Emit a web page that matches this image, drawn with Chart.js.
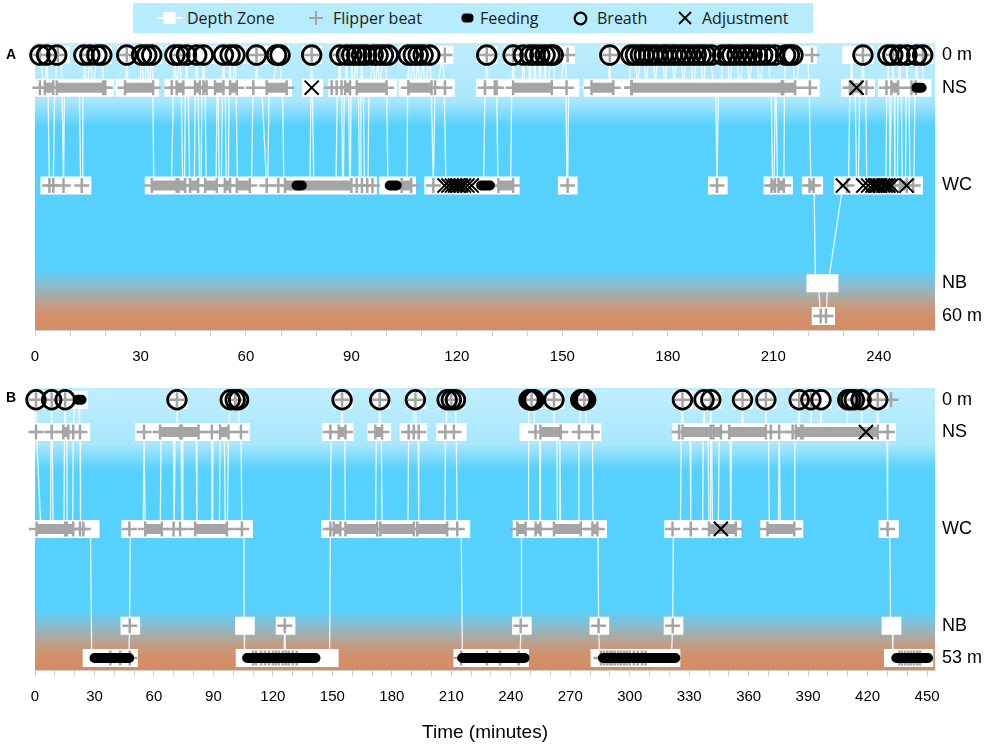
<!DOCTYPE html>
<html><head><meta charset="utf-8">
<script src="https://cdn.jsdelivr.net/npm/chart.js@4.4.1/dist/chart.umd.min.js"></script>
<style>
body{margin:0;background:#fff;width:991px;height:747px;overflow:hidden;position:relative;font-family:'Open Sans',sans-serif}
#legend{position:absolute;left:133px;top:3px;width:680px;height:30px;background:#b6ecfc}
#legend svg{position:absolute}
.lt{position:absolute;top:0;line-height:30px;font-size:16px;color:#1a1a1a;white-space:nowrap}
canvas{position:absolute;left:0}
.pl{position:absolute;left:6px;font:bold 14px 'Liberation Sans',Arial,sans-serif;color:#000}
</style></head><body>
<div id="legend">
 <svg style="left:24px;top:8px" width="26" height="14"><line x1="0" y1="7" x2="26" y2="7" stroke="#fff" stroke-width="2"/><rect x="6.5" y="1" width="12" height="12" fill="#fff"/></svg>
 <span class="lt" style="left:54px">Depth Zone</span>
 <svg style="left:176px;top:8px" width="14" height="14"><line x1="0" y1="7" x2="14" y2="7" stroke="#a5a5a5" stroke-width="2"/><line x1="7" y1="0" x2="7" y2="14" stroke="#a5a5a5" stroke-width="2"/></svg>
 <span class="lt" style="left:200px">Flipper beat</span>
 <svg style="left:328px;top:10px" width="13" height="10"><rect x="0.5" y="0.5" width="12" height="9" rx="4" fill="#000"/></svg>
 <span class="lt" style="left:347px">Feeding</span>
 <svg style="left:440px;top:8px" width="15" height="15"><circle cx="7.5" cy="7.5" r="5.8" fill="none" stroke="#000" stroke-width="2.2"/></svg>
 <span class="lt" style="left:464px">Breath</span>
 <svg style="left:545px;top:8px" width="14" height="14"><line x1="1" y1="1" x2="13" y2="13" stroke="#000" stroke-width="1.8"/><line x1="13" y1="1" x2="1" y2="13" stroke="#000" stroke-width="1.8"/></svg>
 <span class="lt" style="left:569px">Adjustment</span>
</div>
<canvas id="ca" width="991" height="370" style="top:0"></canvas>
<canvas id="cb" width="991" height="377" style="top:370px"></canvas>
<div class="pl" style="top:46px">A</div>
<div class="pl" style="top:389px">B</div>
<script>
// ---------- zone positions and labels ----------
const ZONE_TICKS = [0, 1, 4, 7, 8];
const ZONE_NAMES_A = ['0 m', 'NS', 'WC', 'NB', '60 m'];
const ZONE_NAMES_B = ['0 m', 'NS', 'WC', 'NB', '53 m'];
const X_LABELS_A = [0, 30, 60, 90, 120, 150, 180, 210, 240];
const X_LABELS_B = [0, 30, 60, 90, 120, 150, 180, 210, 240, 270, 300, 330, 360, 390, 420, 450];

// ---------- Panel A ----------
// depth zone visits: [zone, start min, end min]
const A_DEPTH = [
[0,1.4,1.4],[1,2.6,2.9],[0,3.3,3.3],[1,3.7,3.8],[4,4.1,5.2],[1,5.6,5.8],[0,6.2,7.4],[1,7.7,7.8],[4,8.1,8.1],[1,8.4,12.6],[4,13.0,13.4],[1,13.6,13.7],[0,13.9,14.2],[1,14.6,15.0],[0,15.6,15.8],[1,16.3,16.6],[0,17.6,19.2],[1,19.4,19.4],
[1,25.4,25.8],[0,26.1,26.1],[1,26.5,29.8],[0,30.3,30.5],[1,30.8,31.2],[0,31.8,32.0],[1,32.3,32.5],[0,33.2,33.4],
[4,33.8,38.8],[1,39.4,39.5],[0,39.8,39.8],[1,40.2,40.3],[0,41.2,41.2],[1,41.6,41.7],[4,42.0,42.5],[1,42.8,42.9],[0,43.1,43.1],[1,43.5,43.6],[4,44.0,45.3],[1,45.6,45.7],[0,46.0,46.0],[1,46.4,46.5],[4,46.8,47.2],[1,47.5,47.6],[0,47.9,47.9],[1,48.3,48.4],[4,48.7,51.5],[1,51.8,52.1],[4,52.4,53.0],[1,53.3,53.3],[0,53.6,53.6],[1,54.0,54.1],[4,54.4,55.0],[1,55.2,55.2],[0,55.5,55.5],[1,55.8,56.2],[0,56.9,56.9],[1,57.2,57.3],[4,57.6,61.6],[1,62.0,62.7],[0,63.0,63.0],[1,63.4,64.5],[4,65.9,66.2],[1,66.6,67.8],[0,68.7,69.7],[1,70.1,70.4],
[4,70.8,78.2],[1,78.5,78.5],[0,78.7,78.7],[1,78.9,78.9],[4,79.3,85.6],[1,86.0,86.2],[0,86.7,86.7],[1,87.0,87.2],[4,87.5,87.7],[1,88.0,88.2],[0,88.6,88.6],[1,88.9,89.2],[4,89.5,89.7],[1,89.9,90.0],[0,90.1,90.1],[1,90.4,90.6],[0,91.5,91.5],[1,91.8,92.0],[4,92.3,92.5],[1,92.7,92.7],[0,92.9,92.9],[1,93.2,93.4],[4,93.7,94.7],[1,95.0,95.2],[0,96.2,96.2],[1,96.6,96.8],[0,97.6,97.6],[1,97.9,98.1],[0,99.1,99.8],[1,100.0,100.1],
[4,100.4,105.8],[1,106.0,106.0],[0,106.2,106.2],[1,106.6,106.8],[0,107.6,107.6],[1,108.0,108.2],[0,109.0,109.0],[1,109.4,109.6],[0,110.4,110.4],[1,110.8,111.0],[0,112.3,112.3],[1,112.7,112.9],[4,113.3,113.4],[1,113.8,114.5],[0,116.0,116.0],[1,116.4,116.6],
[4,116.9,127.6],[1,128.0,128.2],[0,128.5,128.5],[1,128.9,131.3],[4,131.7,135.3],[1,135.6,135.7],[0,136.0,136.0],[1,136.4,138.5],[0,138.9,138.9],[1,139.3,140.4],[0,140.8,140.8],[1,141.2,141.8],[0,142.2,142.2],[1,142.6,143.2],[0,143.6,143.6],[1,144.0,144.7],[0,145.1,145.1],[1,145.5,146.1],[0,146.5,147.4],[1,147.8,149.5],[0,150.5,150.8],[1,151.0,151.0],[4,151.3,151.5],[1,151.8,151.8],
[1,158.6,163.0],[0,163.5,163.5],[1,163.8,163.9],
[1,169.0,169.1],[0,169.5,170.8],[1,171.3,171.5],[0,172.2,173.3],[1,173.8,174.0],[0,174.6,175.9],[1,176.4,176.6],[0,177.1,178.6],[1,179.1,179.3],[0,179.8,181.3],[1,181.8,182.0],[0,182.5,183.9],[1,184.4,184.6],[0,185.2,186.6],[1,187.1,187.4],[0,188.1,189.5],[1,190.0,190.2],[0,190.8,192.4],[1,192.9,193.6],[4,194.0,194.0],[1,194.4,195.1],[0,195.6,197.0],[1,197.5,197.7],[0,198.2,199.7],[1,200.2,200.6],[0,201.3,202.6],[1,203.1,203.3],[0,204.0,205.5],[1,206.0,206.3],[0,207.0,208.6],[1,209.1,209.4],[4,209.8,210.2],[1,210.6,210.8],[4,211.2,213.0],[1,213.2,213.2],[0,213.5,215.6],[1,216.0,216.5],[0,217.5,219.8],[1,220.2,220.4],[4,220.7,221.6],[7,222.0,222.8],[8,223.5,225.0],[7,225.5,225.6],
[4,229.8,231.4],[1,231.8,232.0],[0,232.2,232.3],[1,232.6,233.3],[4,233.7,234.2],[1,234.6,235.1],[0,235.5,235.5],[1,235.9,236.3],[4,236.6,242.0],[1,242.3,242.4],[0,242.6,242.6],[1,242.9,243.0],[4,243.2,243.3],[1,243.6,243.8],[0,244.0,244.0],[1,244.3,244.4],[4,244.6,245.3],[1,245.5,245.6],[0,246.0,246.0],[1,246.3,246.4],[4,246.7,247.6],[1,247.8,247.8],[0,248.0,248.0],[1,248.3,248.6],[4,248.9,250.0],[1,250.3,250.4],[0,250.8,250.8],[1,251.1,252.4],[0,252.5,252.5]
];
const A_BREATH = [1.4,3.3,6.2,13.9,15.6,17.6,19.0,26.1,30.3,31.8,33.2,39.8,41.2,43.1,46.0,47.9,53.6,55.5,56.9,63.0,68.7,69.7,78.7,86.7,88.6,90.1,91.5,92.9,94.3,96.2,97.6,99.1,100.5,106.2,107.6,109.0,110.4,112.3,128.5,136.0,138.9,140.8,142.2,143.6,145.1,146.5,147.4,163.5,169.5,170.8,172.2,173.3,174.6,175.9,177.1,178.6,179.8,181.3,182.5,183.9,185.2,186.6,188.1,189.5,190.8,192.4,195.6,197.0,198.2,199.7,201.3,202.6,204.0,205.5,207.0,208.6,210.4,213.5,214.6,215.6,235.5,242.6,244.0,246.0,248.0,250.8,252.5];
// single flipper beats [zone, min]
const A_BEAT = [
[1,1.4],[1,20.0],[1,38.9],[1,62.1],[1,84.4],[1,85.8],[1,87.2],[1,113.8],[1,116.6],[1,128.0],[1,130.8],[1,131.3],[1,151.2],[1,169.7],[1,220.4],[1,231.8],[1,236.5],[1,242.2],
[4,4.1],[4,5.2],[4,8.1],[4,13.3],[4,65.9],[4,69.2],[4,91.5],[4,93.0],[4,94.5],[4,96.0],[4,113.3],[4,151.5],[4,194.0],[4,231.0],[4,249.8],
[0,1.4],[0,6.5],[0,15.0],[0,26.1],[0,41.0],[0,63.0],[0,78.7],[0,86.7],[0,116.6],[0,128.5],[0,136.0],[0,151.5],[0,163.5],[0,221.0],[0,235.5],[0,244.0],[0,252.5],
[8,223.5],[8,225.0]
];
// dense flipper-beat bouts [zone, start, end]
const A_BOUT = [
[1,2.8,5.2],[1,6.2,19.4],[1,25.6,33.6],[1,40.3,42.2],[1,45.5,46.9],[1,47.9,48.8],[1,51.2,53.6],[1,55.5,57.4],[1,65.9,71.6],[1,88.2,89.6],[1,91.5,100.0],[1,106.2,112.8],[1,136.0,147.0],[1,158.3,164.5],[1,169.7,212.4],[1,212.8,216.2],[1,232.5,235.0],[1,243.6,245.5],[1,249.3,250.5],
[4,33.2,40.3],[4,40.8,42.7],[4,44.1,46.4],[4,48.4,51.7],[4,54.0,55.5],[4,57.4,61.1],[4,71.1,90.0],[4,104.3,107.0],[4,131.8,136.0],[4,209.5,210.5],[4,211.5,213.0],[4,220.3,221.5],[4,242.5,244.5],[4,246.0,248.0]
];
const A_FEED = [[4,74.4,75.9],[4,100.9,102.9],[4,126.9,129.4],[1,250.7,252.2]];
const A_ADJ = [[1,78.7],[4,116.5],[4,117.6],[4,118.6],[4,119.5],[4,120.3],[4,121.1],[4,122.0],[4,123.0],[4,124.2],[4,229.8],[1,233.7],[4,235.6],[4,237.0],[4,238.2],[4,238.9],[4,239.6],[4,240.3],[4,241.3],[4,242.0],[4,242.7],[4,243.6],[4,247.9]];

// ---------- Panel B ----------
const B_DEPTH = [
[0,0.5,0.5],[1,0.7,0.7],[4,3.0,7.8],[1,8.1,8.2],[0,8.4,8.4],[1,8.7,8.8],[4,9.1,14.6],[1,14.9,15.0],[0,15.2,15.2],[1,15.5,16.0],[4,16.3,19.0],[1,19.3,19.3],[0,20.0,22.2],[1,22.5,22.7],[4,23.0,28.0],[8,28.6,47.3],[7,47.7,47.9],
[4,48.1,54.6],[1,55.0,55.2],[4,55.6,63.2],[1,63.6,69.8],[4,70.2,70.3],[1,70.7,71.2],[0,71.6,71.6],[1,72.0,73.7],[4,74.1,74.2],[1,74.6,81.3],[4,81.7,88.8],[1,89.2,89.3],[4,89.7,93.0],[1,93.4,95.5],[4,96.0,97.0],[1,97.6,97.8],[0,98.5,102.7],[1,103.0,103.9],[4,104.4,105.4],[7,105.5,105.6],[8,105.8,125.5],[7,126.0,126.0],[8,126.5,148.6],
[4,149.0,149.1],[1,149.4,154.5],[0,154.9,154.9],[1,155.3,156.2],[4,156.6,171.8],[1,172.2,173.5],[0,173.9,173.9],[1,174.3,174.7],[4,175.1,188.1],[1,188.5,190.5],[0,191.9,191.9],[1,192.3,193.3],[4,193.6,206.8],[1,207.0,207.4],[0,207.9,212.1],[1,212.3,212.5],[4,213.0,215.0],[8,215.6,244.6],[7,245.2,245.3],
[4,245.5,248.8],[1,249.0,249.0],[0,249.2,251.7],[1,252.1,254.5],[4,254.7,254.8],[1,255.0,261.5],[0,261.8,261.8],[1,262.1,263.3],[4,263.5,264.4],[1,264.6,264.8],[4,265.2,274.0],[1,274.4,274.8],[0,275.3,277.8],[1,278.2,281.2],[4,281.5,284.0],[7,284.3,284.4],[8,284.8,321.0],[7,321.7,321.8],
[4,322.0,325.6],[1,326.0,326.2],[0,326.6,326.6],[1,327.0,330.5],[4,330.8,336.8],[1,337.1,337.2],[0,337.5,337.5],[1,337.9,339.5],[4,340.0,340.5],[1,340.7,340.7],[0,340.9,340.9],[1,341.3,341.5],[4,341.8,344.7],[1,345.1,350.6],[4,351.0,351.0],[1,351.4,356.5],[0,356.9,356.9],[1,357.3,368.3],[0,368.7,368.7],[1,369.1,370.0],[4,370.4,375.0],[1,375.4,375.6],[4,376.0,383.0],[1,383.3,385.1],[0,385.5,385.5],[1,385.9,391.0],[0,391.4,391.4],[1,391.8,396.1],[0,396.5,396.5],[1,396.9,409.6],[0,410.0,416.7],[1,417.1,424.7],[0,425.1,425.1],[1,425.5,429.8],[4,430.1,431.2],[7,431.6,432.5],[8,432.8,448.6]
];
const B_BREATH = [0.5,8.4,15.2,71.6,98.5,101.0,102.7,154.9,173.9,191.9,207.9,210.0,212.1,249.2,249.8,250.5,251.1,251.7,261.8,275.3,275.9,276.5,277.2,277.8,326.6,337.5,340.9,356.9,368.7,385.5,391.4,396.5,410.0,411.5,413.3,416.7,425.1];
const B_BEAT = [
[1,0.5],[1,8.4],[1,19.3],[1,22.7],[1,55.0],[1,89.2],[1,103.9],[1,149.0],[1,188.5],[1,191.1],[1,193.6],[1,207.0],[1,211.3],[1,252.5],[1,274.4],[1,281.2],[1,324.9],[1,371.2],[1,375.4],[1,382.2],[1,430.1],
[4,22.7],[4,24.4],[4,47.6],[4,69.9],[4,73.2],[4,104.4],[4,149.0],[4,213.0],[4,321.6],[4,330.8],[4,430.1],
[7,47.8],[7,126.0],[7,245.0],[7,284.3],[7,321.7],
[8,38.0],[8,43.0],[8,47.8],[8,110.0],[8,111.5],[8,114.0],[8,116.0],[8,118.0],[8,120.0],[8,121.5],[8,123.0],[8,125.0],[8,126.5],[8,128.0],[8,130.0],[8,132.0],[8,215.0],[8,228.0],[8,234.5],[8,244.0],
[8,285.5],[8,287.0],[8,288.6],[8,290.0],[8,291.2],[8,292.5],[8,294.1],[8,295.5],[8,297.0],[8,298.4],[8,300.0],[8,302.1],[8,304.0],[8,306.2],[8,308.0],
[8,436.0],[8,437.4],[8,439.0],[8,440.6],[8,442.0],[8,443.5],[8,445.1],[8,446.5],
[0,0.5],[0,8.4],[0,15.2],[0,71.6],[0,101.0],[0,154.9],[0,173.9],[0,191.9],[0,210.0],[0,250.5],[0,261.8],[0,277.0],[0,326.6],[0,340.9],[0,356.9],[0,368.7],[0,385.5],[0,391.4],[0,413.3],[0,416.7],[0,425.1],[0,431.8]
];
const B_BOUT = [
[1,14.3,16.8],[1,63.1,73.2],[1,74.1,82.5],[1,93.4,97.6],[1,153.2,156.6],[1,171.7,175.1],[1,255.0,265.2],[1,326.6,340.9],[1,342.2,346.0],[1,350.2,368.7],[1,383.8,386.4],[1,387.2,425.1],
[4,0.8,15.2],[4,16.0,19.3],[4,55.6,64.0],[4,80.8,96.8],[4,150.7,154.0],[4,156.6,172.6],[4,174.2,191.1],[4,192.8,207.9],[4,243.3,247.5],[4,252.5,255.0],[4,261.8,275.3],[4,281.2,283.7],[4,340.0,353.5],[4,369.5,383.0]
];
const B_FEED = [[0,21.5,23.5],[8,30.0,47.5],[8,107.0,141.5],[8,215.5,247.0],[8,286.5,323.0],[8,434.5,450.5]];
const B_ADJ = [[1,419.2],[4,346.0]];

// ---------- rendering ----------
const BG_STOPS = [[0,'#bfeefd'],[0.2,'#a9e7fc'],[0.29,'#56d1fd'],[0.785,'#56d1fd'],[0.85,'#8fb9c8'],[0.91,'#c39d86'],[0.957,'#d48f68'],[1,'#d68c64']];
const bgPlugin = {
  id: 'bgGrad',
  beforeDraw(chart) {
    const {ctx, chartArea: {left, right, top, bottom}} = chart;
    const g = ctx.createLinearGradient(0, top, 0, bottom);
    BG_STOPS.forEach(([p, c]) => g.addColorStop(p, c));
    ctx.save(); ctx.fillStyle = g; ctx.fillRect(left, top, right - left, bottom - top); ctx.restore();
  }
};

function segLine(list) {
  const out = [];
  list.forEach(([z, s, e]) => { out.push({x: s, y: z}, {x: e, y: z}, {x: e, y: null}); });
  return out;
}

function build(id, c) {
  const minDur = 1.6 / (900 / c.xMax);
  const boxData = [], pathData = [];
  c.depth.forEach(([z, s, e]) => {
    const e2 = Math.max(e, s + minDur);
    boxData.push({x: s, y: z}, {x: e2, y: z}, {x: e2, y: null});
    pathData.push({x: s, y: z}, {x: e, y: z});
  });
  const beatPts = c.beats.map(([z, t]) => ({x: t, y: z}));
  c.bouts.forEach(([z, s, e]) => beatPts.push({x: s, y: z}, {x: e, y: z}));
  const names = {}; ZONE_TICKS.forEach((v, i) => names[v] = c.zoneNames[i]);
  const tickFont = {family: "'Liberation Sans', Arial, sans-serif", size: 15};
  const lineBase = {showLine: true, pointRadius: 0, pointHoverRadius: 0, fill: false, spanGaps: false, clip: false, borderJoinStyle: 'miter'};
  return new Chart(document.getElementById(id), {
    type: 'scatter',
    data: {datasets: [
      {label: 'Adjustment', data: c.adj.map(([z, t]) => ({x: t, y: z})), pointStyle: 'crossRot', pointRadius: 10, borderColor: '#000', borderWidth: 2, order: 1, clip: false},
      {label: 'Breath', data: c.breath.map(t => ({x: t, y: 0})), pointStyle: 'circle', pointRadius: 9.3, borderColor: '#000', backgroundColor: 'rgba(0,0,0,0)', borderWidth: 2.8, order: 2, clip: false},
      Object.assign({label: 'Feeding', data: segLine(c.feed), borderColor: '#000', borderWidth: 10, borderCapStyle: 'round', order: 3}, lineBase),
      {label: 'Flipper beat', data: beatPts, pointStyle: 'cross', pointRadius: 7.5, borderColor: '#a5a5a5', borderWidth: 2.5, order: 4, clip: false},
      Object.assign({label: 'Flipper bout', data: segLine(c.bouts), borderColor: '#a5a5a5', borderWidth: 10, borderCapStyle: 'butt', order: 5}, lineBase),
      Object.assign({label: 'Depth Zone', data: boxData, borderColor: '#ffffff', borderWidth: 18, borderCapStyle: 'square', order: 6}, lineBase),
      Object.assign({label: 'Depth path', data: pathData, borderColor: 'rgba(255,255,255,0.85)', borderWidth: 1.3, borderCapStyle: 'butt', order: 7}, lineBase)
    ]},
    options: {
      responsive: false, animation: false, devicePixelRatio: 1, events: [],
      layout: {padding: {left: 35, top: c.padTop, right: 0, bottom: 0}},
      plugins: {legend: {display: false}, tooltip: {enabled: false}},
      scales: {
        x: {
          type: 'linear', min: 0, max: c.xMax,
          afterBuildTicks: s => { const t = []; for (let v = 0; v <= c.xMax; v += 10) t.push({value: v}); s.ticks = t; },
          afterFit: s => { s.height = c.axisH; },
          ticks: {autoSkip: false, maxRotation: 0, padding: 12, color: '#000', font: tickFont,
                  callback: v => c.xLabels.includes(v) ? String(v) : ''},
          grid: {drawOnChartArea: false, drawTicks: true, tickLength: 6, color: '#cfcfcf'},
          border: {display: true, color: '#cfcfcf'},
          title: c.title ? {display: true, text: c.title, color: '#000', font: {family: "'Liberation Sans', Arial, sans-serif", size: 19}, padding: {top: 0, bottom: 3}} : {display: false}
        },
        y: {
          type: 'linear', position: 'right', reverse: true, min: c.yMin, max: c.yMax,
          afterBuildTicks: s => { s.ticks = ZONE_TICKS.map(v => ({value: v})); },
          afterFit: s => { s.width = 56; },
          ticks: {padding: 7, color: '#000', font: {family: "'Liberation Sans', Arial, sans-serif", size: 18}, callback: v => names[v]},
          grid: {display: false, drawTicks: false}, border: {display: false}
        }
      }
    },
    plugins: [bgPlugin]
  });
}

build('ca', {depth: A_DEPTH, breath: A_BREATH, beats: A_BEAT, bouts: A_BOUT, feed: A_FEED, adj: A_ADJ,
  xMax: 256, yMin: -0.37, yMax: 8.43, zoneNames: ZONE_NAMES_A, xLabels: X_LABELS_A, padTop: 43, axisH: 40, title: null});
build('cb', {depth: B_DEPTH, breath: B_BREATH, beats: B_BEAT, bouts: B_BOUT, feed: B_FEED, adj: B_ADJ,
  xMax: 454, yMin: -0.37, yMax: 8.37, zoneNames: ZONE_NAMES_B, xLabels: X_LABELS_B, padTop: 16, axisH: 77, title: 'Time (minutes)'});
</script>
</body></html>
